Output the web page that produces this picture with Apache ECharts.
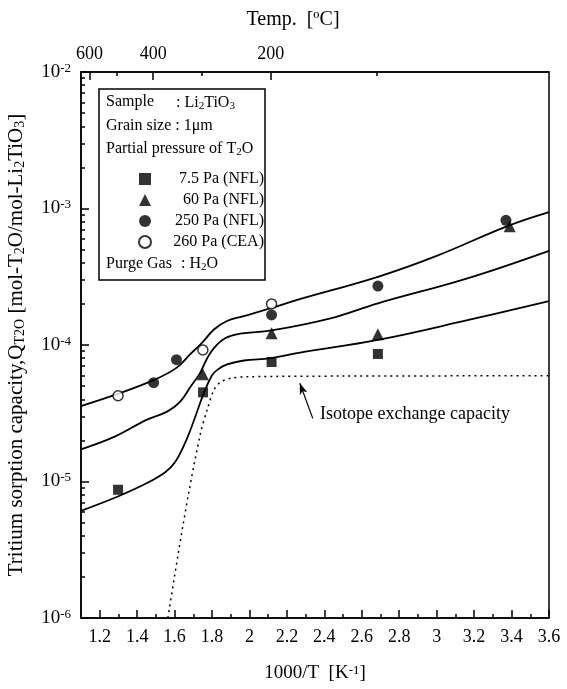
<!DOCTYPE html>
<html>
<head>
<meta charset="utf-8">
<script src="https://cdn.jsdelivr.net/npm/echarts@6/dist/echarts.min.js"></script>
<style>
  html, body { margin: 0; padding: 0; background: #fff; }
  #chart { width: 567px; height: 689px; }
</style>
</head>
<body>
<div id="chart"></div>
<script>
// x: 1000/T [1/K], y: tritium sorption capacity [mol-T2O/mol-Li2TiO3]
const xTicks = [1.2, 1.4, 1.6, 1.8, 2.0, 2.2, 2.4, 2.6, 2.8, 3.0, 3.2, 3.4, 3.6]
const xMinorTicks = [1.3, 1.5, 1.7, 1.9, 2.1, 2.3, 2.5, 2.7, 2.9, 3.1, 3.3, 3.5]
const yTicks = [1e-6, 1e-5, 1e-4, 1e-3, 1e-2]
const yMinorTicks = []
yTicks.slice(0, 4).forEach(d => {
  for (let k = 2; k <= 9; k++) yMinorTicks.push(k * d)
})
const topTempMajor = [600, 400, 200] // degC
const topTempMinor = [500, 300, 100]

// measured points
const pa75 = [[1.298, 8.7e-6], [1.752, 4.5e-5], [2.118, 7.5e-5], [2.686, 8.6e-5]]
const pa60 = [[1.751, 6.1e-5], [2.118, 1.22e-4], [2.686, 1.2e-4], [3.39, 7.4e-4]]
const pa250 = [[1.488, 5.3e-5], [1.61, 7.8e-5], [2.118, 1.66e-4], [2.686, 2.7e-4], [3.37, 8.2e-4]]
const pa260 = [[1.298, 4.25e-5], [1.751, 9.2e-5], [2.118, 2.0e-4]]

// calculated curves
const curveLow = [[1.1, 6.1e-6], [1.3, 7.8e-6], [1.45, 9.7e-6], [1.55, 1.17e-5], [1.6, 1.37e-5],
  [1.655, 1.9e-5], [1.71, 2.97e-5], [1.755, 4.4e-5], [1.8, 6.0e-5], [1.83, 6.6e-5], [1.88, 7.2e-5],
  [1.97, 7.7e-5], [2.114, 8.0e-5], [2.27, 8.8e-5], [2.686, 1.09e-4], [3.164, 1.52e-4], [3.6, 2.1e-4]]
const curveMid = [[1.1, 1.72e-5], [1.28, 2.13e-5], [1.45, 2.83e-5], [1.56, 3.25e-5], [1.63, 3.85e-5],
  [1.685, 4.95e-5], [1.735, 6.2e-5], [1.77, 7.8e-5], [1.81, 9.5e-5], [1.87, 1.12e-4], [1.95, 1.21e-4],
  [2.118, 1.28e-4], [2.433, 1.57e-4], [2.686, 2.02e-4], [3.164, 3.08e-4], [3.6, 4.9e-4]]
const curveHigh = [[1.1, 3.57e-5], [1.3, 4.4e-5], [1.49, 5.55e-5], [1.61, 6.8e-5], [1.685, 8.6e-5],
  [1.75, 1.05e-4], [1.81, 1.3e-4], [1.88, 1.5e-4], [1.97, 1.63e-4], [2.114, 1.86e-4], [2.255, 2.14e-4],
  [2.686, 3.16e-4], [3.0, 4.5e-4], [3.375, 7.4e-4], [3.6, 9.4e-4]]
const isotope = [[1.564, 1e-6], [1.62, 3.0e-6], [1.675, 8.2e-6], [1.738, 2.25e-5], [1.774, 3.35e-5],
  [1.809, 4.65e-5], [1.845, 5.35e-5], [1.898, 5.7e-5], [1.988, 5.85e-5], [2.5, 5.92e-5], [3.6, 5.95e-5]]
const arrowFrom = [2.338, 2.9e-5]
const arrowTo = [2.269, 5.24e-5]

const FONT = 'Liberation Serif'
const toInvT = t => 1000 / (t + 273.15)

const chart = echarts.init(document.getElementById('chart'))

const axisBase = {
  min: 1.1,
  max: 3.6,
  splitLine: { show: false },
  axisLine: { lineStyle: { color: '#000', width: 1.5 } }
}

function curve (data) {
  return {
    type: 'line',
    data: data,
    smooth: 0.4,
    showSymbol: false,
    silent: true,
    lineStyle: { color: '#000', width: 1.8 },
    z: 2
  }
}

const supRich = {
  b: { fontFamily: FONT, fontSize: 19, color: '#000', lineHeight: 20 },
  s: { fontFamily: FONT, fontSize: 13, color: '#000', lineHeight: 10, verticalAlign: 'top' }
}
const subRich = {
  n: { fontFamily: FONT, fontSize: 21, color: '#000', lineHeight: 22 },
  d: { fontFamily: FONT, fontSize: 14, color: '#000', lineHeight: 10, verticalAlign: 'bottom' }
}
const legRich = {
  n: { fontFamily: FONT, fontSize: 16, color: '#000', lineHeight: 18 },
  d: { fontFamily: FONT, fontSize: 11, color: '#000', lineHeight: 8, verticalAlign: 'bottom' }
}

chart.setOption({
  animation: false,
  backgroundColor: '#fff',
  grid: {
    left: 81, right: 18, top: 72, bottom: 71,
    outerBoundsMode: 'none',
    show: true, borderColor: '#000', borderWidth: 1.5
  },
  xAxis: [
    Object.assign({}, axisBase, {
      type: 'value',
      position: 'bottom',
      name: '1000/T  [K{s|-1}]',
      nameLocation: 'middle',
      nameGap: 46,
      nameTextStyle: { rich: supRich, fontFamily: FONT, fontSize: 19, color: '#000' },
      axisTick: { inside: true, length: 8, customValues: xTicks, lineStyle: { color: '#000', width: 1.5 } },
      axisLabel: { customValues: xTicks, fontFamily: FONT, fontSize: 18, color: '#000', margin: 10 }
    }),
    Object.assign({}, axisBase, {
      type: 'value',
      position: 'bottom',
      axisLine: { show: false },
      axisTick: { inside: true, length: 4, customValues: xMinorTicks, lineStyle: { color: '#000', width: 1.5 } },
      axisLabel: { show: false }
    }),
    Object.assign({}, axisBase, {
      type: 'value',
      position: 'top',
      name: 'Temp.  [ºC]',
      nameLocation: 'middle',
      nameGap: 42,
      nameTextStyle: { fontFamily: FONT, fontSize: 20, color: '#000', padding: [0, 44, 0, 0] },
      axisTick: { inside: true, length: 8, customValues: topTempMajor.map(toInvT), lineStyle: { color: '#000', width: 1.5 } },
      axisLabel: {
        customValues: topTempMajor.map(toInvT),
        fontFamily: FONT, fontSize: 18, color: '#000', margin: 9,
        formatter: v => String(Math.round(1000 / v - 273.15))
      }
    }),
    Object.assign({}, axisBase, {
      type: 'value',
      position: 'top',
      axisLine: { show: false },
      axisTick: { inside: true, length: 4, customValues: topTempMinor.map(toInvT), lineStyle: { color: '#000', width: 1.5 } },
      axisLabel: { show: false }
    })
  ],
  yAxis: [
    {
      type: 'log',
      logBase: 10,
      min: 1e-6,
      max: 1e-2,
      position: 'left',
      splitLine: { show: false },
      axisLine: { lineStyle: { color: '#000', width: 1.5 } },
      axisTick: { inside: true, length: 8, customValues: yTicks, lineStyle: { color: '#000', width: 1.5 } },
      axisLabel: {
        customValues: yTicks,
        margin: 10,
        rich: supRich,
        formatter: v => '{b|10}{s|' + Math.round(Math.log10(v)) + '}'
      },
      name: 'Tritium sorption capacity,Q{d|T}{d|2}{d|O} [mol-T{d|2}O/mol-Li{d|2}TiO{d|3}]',
      nameLocation: 'middle',
      nameRotate: 90,
      nameGap: 54,
      nameTextStyle: { rich: subRich, fontFamily: FONT, fontSize: 21, color: '#000' }
    },
    {
      type: 'log',
      logBase: 10,
      min: 1e-6,
      max: 1e-2,
      position: 'left',
      splitLine: { show: false },
      axisLine: { show: false },
      axisTick: { inside: true, length: 4, customValues: yMinorTicks, lineStyle: { color: '#000', width: 1.5 } },
      axisLabel: { show: false }
    }
  ],
  legend: {
    left: 133,
    top: 166,
    orient: 'vertical',
    itemWidth: 12,
    itemHeight: 12,
    itemGap: 5,
    selectedMode: false,
    data: ['7.5 Pa (NFL)', '60 Pa (NFL)', '250 Pa (NFL)', '260 Pa (CEA)'],
    formatter: name => '{r|' + name + '}',
    textStyle: {
      rich: { r: { width: 108, align: 'right', fontFamily: FONT, fontSize: 16, color: '#000', lineHeight: 18 } }
    }
  },
  series: [
    curve(curveHigh),
    curve(curveMid),
    curve(curveLow),
    {
      type: 'line',
      data: isotope,
      smooth: 0.3,
      showSymbol: false,
      silent: true,
      lineStyle: { color: '#000', width: 1.5, type: [2, 4] },
      z: 2,
      markLine: {
        silent: true,
        symbol: ['none', 'arrow'],
        symbolSize: [6, 11],
        label: { show: false },
        lineStyle: { color: '#000', width: 1.2, type: 'solid' },
        data: [[{ coord: arrowFrom }, { coord: arrowTo }]]
      }
    },
    {
      name: '7.5 Pa (NFL)', type: 'scatter', data: pa75, symbol: 'rect', symbolSize: 10,
      itemStyle: { color: '#000' }, z: 5
    },
    {
      name: '60 Pa (NFL)', type: 'scatter', data: pa60, symbol: 'triangle', symbolSize: 12,
      itemStyle: { color: '#000' }, z: 5
    },
    {
      name: '250 Pa (NFL)', type: 'scatter', data: pa250, symbol: 'circle', symbolSize: 11,
      itemStyle: { color: '#000' }, z: 5
    },
    {
      name: '260 Pa (CEA)', type: 'scatter', data: pa260, symbol: 'circle', symbolSize: 10,
      itemStyle: { color: '#fff', borderColor: '#000', borderWidth: 1.5 }, z: 6
    }
  ],
  graphic: [
    { type: 'rect', shape: { x: 99, y: 89, width: 166, height: 191 }, style: { fill: '#fff', stroke: '#000', lineWidth: 1.5 }, z: 0 },
    { type: 'text', x: 106, y: 94, style: { text: 'Sample', font: '16px ' + FONT, fill: '#000' }, z: 10 },
    { type: 'text', x: 176, y: 94, style: { text: '{n|: Li}{d|2}{n|TiO}{d|3}', rich: legRich }, z: 10 },
    { type: 'text', x: 106, y: 118, style: { text: 'Grain size : 1μm', font: '16px ' + FONT, fill: '#000' }, z: 10 },
    { type: 'text', x: 106, y: 140, style: { text: '{n|Partial pressure of T}{d|2}{n|O}', rich: legRich }, z: 10 },
    { type: 'text', x: 106, y: 256, style: { text: 'Purge Gas', font: '16px ' + FONT, fill: '#000' }, z: 10 },
    { type: 'text', x: 181, y: 255, style: { text: '{n|: H}{d|2}{n|O}', rich: legRich }, z: 10 },
    { type: 'text', x: 320, y: 405, style: { text: 'Isotope exchange capacity', font: '18px ' + FONT, fill: '#000' }, z: 10 }
  ]
})
</script>
</body>
</html>
